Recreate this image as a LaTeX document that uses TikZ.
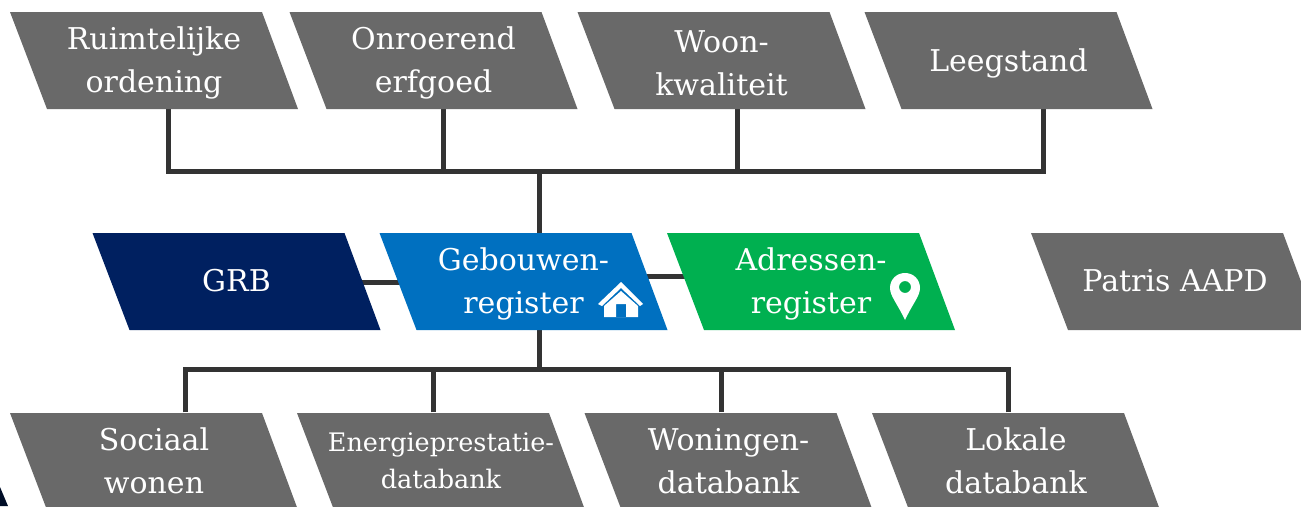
\documentclass[tikz,border=0pt]{standalone}
\usepackage{fontspec}
\setmainfont{DejaVu Serif}
\usetikzlibrary{backgrounds}

\definecolor{boxgrey}{HTML}{696969}
\definecolor{grbblue}{HTML}{002060}
\definecolor{gebblue}{HTML}{0070C0}
\definecolor{adrgreen}{HTML}{00B050}
\definecolor{linegrey}{HTML}{333333}

\tikzset{
    regtext/.style={text=white,align=center,inner sep=0pt,minimum width=288pt,minimum height=97pt,
                    font=\fontsize{30}{43}\selectfont},
    lowtext/.style={regtext,yshift=-3pt,minimum height=91pt},
    smalltext/.style={regtext,font=\fontsize{25.5}{37}\selectfont},
    link/.style={draw=linegrey,line width=5pt}
}

% box: name, centre x, centre y, colour, text style, text
\newcommand{\regbox}[6]{
    \fill[#4] (#2-144,#3-48) -- (#2+108,#3-48) -- (#2+144,#3+49) -- (#2-107,#3+49) -- cycle;
    \node[#5] (#1) at (#2,#3) {#6};
}

\begin{document}
\begin{tikzpicture}[x=1pt,y=-1pt]
    \useasboundingbox (0,0) rectangle (1301,506);
    \clip (0,0) rectangle (1301,506);

    \regbox{ruimte}{154}{60}{boxgrey}{lowtext}{Ruimtelijke\\ordening}
    \regbox{erfgoed}{433.5}{60}{boxgrey}{lowtext}{Onroerend\\erfgoed}
    \regbox{woon}{721.5}{60}{boxgrey}{lowtext}{Woon-\\kwaliteit}
    \regbox{leeg}{1008.5}{60}{boxgrey}{lowtext}{Leegstand}

    \regbox{grb}{236.5}{281}{grbblue}{regtext}{GRB}
    \regbox{gebouw}{523.5}{281}{gebblue}{lowtext}{Gebouwen-\\register}
    \regbox{adres}{811}{281}{adrgreen}{lowtext}{Adressen-\\register}
    \regbox{patris}{1175}{281}{boxgrey}{regtext}{Patris AAPD}

    \regbox{sociaal}{154}{461}{boxgrey}{regtext}{Sociaal\\wonen}
    \regbox{energie}{441}{461}{boxgrey}{smalltext}{Energieprestatie-\\databank}
    \regbox{woning}{728.5}{461}{boxgrey}{regtext}{Woningen-\\databank}
    \regbox{lokaal}{1016}{461}{boxgrey}{regtext}{Lokale\\databank}

    % house
    \fill[white] (621,282) -- (643,304) -- (640,306) -- (621,288) -- (602,306) -- (598,304) -- cycle;
    \fill[white,even odd rule] (621,291) -- (638,306) -- (638,317) -- (604,317) -- (604,306) -- cycle
        (616,304) rectangle (626,317);
    % pin
    \fill[white,even odd rule] (905,320) .. controls (897,303) and (890,296) .. (890,288)
        .. controls (890,279) and (897,273) .. (905,273)
        .. controls (913,273) and (920,279) .. (920,288)
        .. controls (920,296) and (913,303) .. (905,320) -- cycle
        (905,287) circle (6);
    % corner
    \fill[grbblue!40!black] (0,487) -- (8,506) -- (0,506) -- cycle;

    \begin{scope}[on background layer]
        \coordinate (topbus) at (539,171);
        \coordinate (lowbus) at (539,369);
        \draw[link,line cap=rect] ([xshift=14pt]ruimte.south) |- (topbus);
        \draw[link] ([xshift=9.5pt]erfgoed.south) |- (topbus);
        \draw[link] ([xshift=15.5pt]woon.south) |- (topbus);
        \draw[link,line cap=rect] ([xshift=34.5pt]leeg.south) |- (topbus);
        \draw[link] (topbus) -- ([xshift=15.5pt]gebouw.north);
        \draw[link] ([xshift=15.5pt]gebouw.south) -- (lowbus);
        \draw[link] ([xshift=31pt]sociaal.north) |- (lowbus);
        \draw[link] ([xshift=-8pt]energie.north) |- (lowbus);
        \draw[link] ([xshift=-7.5pt]woning.north) |- (lowbus);
        \draw[link] ([xshift=-8pt]lokaal.north) |- (lowbus);
        \draw[link] ([xshift=-25pt,yshift=-1pt]grb.east) -- ([xshift=30pt,yshift=2pt]gebouw.west);
        \draw[link] ([xshift=-25pt,yshift=8pt]gebouw.east) -- ([xshift=30pt,yshift=8pt]adres.west);
    \end{scope}
\end{tikzpicture}
\end{document}
